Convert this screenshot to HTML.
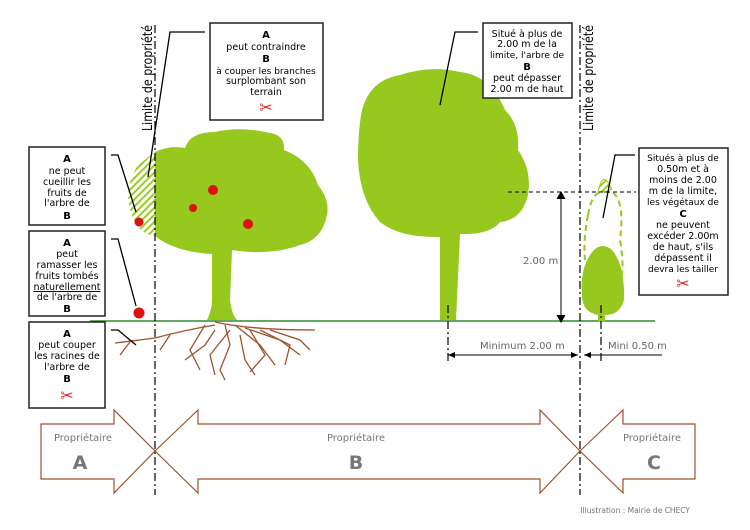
<!DOCTYPE html>
<html><head><meta charset="utf-8"><style>
body{margin:0;background:#fff;width:750px;height:530px;overflow:hidden}
svg{display:block;font-family:"DejaVu Sans","Liberation Sans",sans-serif}
</style></head><body>
<svg width="750" height="530" viewBox="0 0 750 530" xmlns="http://www.w3.org/2000/svg">
<defs>
<pattern id="h" width="5" height="5" patternUnits="userSpaceOnUse" patternTransform="rotate(45)">
<rect width="5" height="5" fill="#fff"/><rect width="2" height="5" fill="#9acd1c"/></pattern>
</defs>
<!-- roots -->
<g stroke="#a0522d" stroke-width="1.3" fill="none">
<path d="M115 343 Q140 340 155 338 Q185 330 215 325"/>
<path d="M215 322 Q250 330 315 330"/>
<path d="M205 325 L190 350 L200 370"/>
<path d="M225 325 L230 345 L220 370 L225 380"/>
<path d="M235 325 L260 345 L275 365"/>
<path d="M245 328 L280 340 L300 355"/>
<path d="M215 330 L205 345 L185 360"/>
<path d="M240 335 L245 360 L255 375"/>
<path d="M260 330 L290 345 L285 365"/>
<path d="M250 330 L265 355 L250 372"/>
<path d="M230 330 L210 355 L215 375"/>
<path d="M270 330 L300 340 L310 350"/>
<path d="M170 335 L160 350"/>
<path d="M130 342 L120 355"/>
</g>
<!-- grass -->
<path d="M90 321 L655 321" stroke="#2e8b2e" stroke-width="1.5"/>
<!-- apple tree -->
<path d="M132 215 Q122 190 138 165 L155 152 L155 236 Q138 234 132 215Z" fill="url(#h)"/>
<path d="M155 152 Q170 145 185 148 Q190 132 215 132 Q240 126 270 133 Q285 135 284 150 Q310 160 318 185 Q330 200 327 215 Q322 240 300 245 Q270 256 232 250 L230 300 Q232 315 237 320 L207 320 Q212 310 212 300 L212 254 Q175 252 155 236Z" fill="#96c81e"/>
<circle cx="213" cy="190" r="5" fill="#e01010"/><circle cx="193" cy="208" r="4" fill="#e01010"/><circle cx="248" cy="224" r="5" fill="#e01010"/>
<circle cx="139" cy="222" r="4.5" fill="#e01010"/><circle cx="139" cy="313" r="5.5" fill="#e01010"/>
<!-- big tree B -->
<path d="M362 110 Q370 80 400 75 Q430 65 460 72 Q490 75 505 110 Q520 125 518 150 Q532 170 528 195 Q522 220 500 222 Q490 235 460 234 L456 320 L440 320 L440 237 Q400 238 380 222 Q360 200 358 160 Q358 130 362 110Z" fill="#96c81e"/>
<!-- small tree C -->
<path d="M590 255 Q600 240 612 250 Q625 265 624 300 Q620 315 605 315 L605 322 L598 322 L598 315 Q582 312 582 295 Q580 270 590 255Z" fill="#96c81e"/>
<path d="M598 192 Q603 168 612 190" fill="url(#h)" stroke="#96c81e"/>
<path d="M588 215 Q592 190 605 192 L612 192 Q625 200 620 240 Q625 270 620 280 M588 215 Q583 240 585 260" fill="none" stroke="#96c81e" stroke-width="2" stroke-dasharray="6,4"/>
<!-- property lines -->
<g stroke="#000" stroke-width="1.2" stroke-dasharray="8,3,2,3"><path d="M155 25 V495"/><path d="M580 25 V495"/><path d="M448 305 V362"/><path d="M601 305 V362"/></g>
<text transform="translate(152 131) rotate(-90)" font-size="13" textLength="106" lengthAdjust="spacingAndGlyphs">Limite de propriété</text>
<text transform="translate(593 131) rotate(-90)" font-size="13" textLength="106" lengthAdjust="spacingAndGlyphs">Limite de propriété</text>
<!-- dimensions -->
<path d="M508 192 H636" stroke="#000" stroke-dasharray="4,3"/>
<path d="M561 196 V318" stroke="#000"/><path d="M557 199 L561 192 L565 199 M557 315 L561 322 L565 315" fill="#000" stroke="#000"/>
<text x="523" y="264" font-size="10" fill="#666">2.00 m</text>
<path d="M448 355 H578 M584 355 H662" stroke="#000"/>
<path d="M455 352 L448 355 L455 358Z M571 352 L578 355 L571 358Z M591 352 L584 355 L591 358Z" fill="#000"/>
<text x="480" y="349" font-size="10" fill="#666">Minimum 2.00 m</text>
<text x="608" y="349" font-size="10" fill="#666">Mini 0.50 m</text>
<!-- leader lines -->
<g stroke="#000" stroke-width="1.3" fill="none">
<path d="M205 32 H170 L148 177"/>
<path d="M111 155 H118 L136 212"/>
<path d="M111 239 H118 L136 306"/>
<path d="M111 330 H118 L136 345"/>
<path d="M478 32 H455 L440 105"/>
<path d="M635 155 H615 L603 218"/>
</g>
<!-- boxes -->
<g fill="#fff" stroke="#222" stroke-width="1.5">
<rect x="210" y="23" width="113" height="97"/><rect x="29" y="147" width="76" height="78"/>
<rect x="29" y="231" width="76" height="85"/><rect x="29" y="322" width="76" height="86"/>
<rect x="483" y="23" width="89" height="75"/><rect x="639" y="148" width="89" height="147"/>
</g>
<g font-size="9.5" text-anchor="middle" fill="#000">
<text x="266" y="38" font-weight="bold" font-size="10">A</text><text x="266" y="50">peut contraindre</text><text x="266" y="62" font-weight="bold" font-size="10">B</text><text x="266" y="74" font-size="9">à couper les branches</text><text x="266" y="84">surplombant son</text><text x="266" y="95">terrain</text>
<text x="67" y="162" font-weight="bold" font-size="10">A</text><text x="67" y="174">ne peut</text><text x="67" y="185">cueillir les</text><text x="67" y="196">fruits de</text><text x="67" y="206">l'arbre de</text><text x="67" y="219" font-weight="bold" font-size="10">B</text>
<text x="67" y="246" font-weight="bold" font-size="10">A</text><text x="67" y="257">peut</text><text x="67" y="268">ramasser les</text><text x="67" y="279">fruits tombés</text><text x="67" y="290" text-decoration="underline">naturellement</text><text x="67" y="300">de l'arbre de</text><text x="67" y="312" font-weight="bold" font-size="10">B</text>
<text x="67" y="337" font-weight="bold" font-size="10">A</text><text x="67" y="348">peut couper</text><text x="67" y="359">les racines de</text><text x="67" y="370">l'arbre de</text><text x="67" y="382" font-weight="bold" font-size="10">B</text>
<text x="527" y="37">Situé à plus de</text><text x="527" y="47">2.00 m de la</text><text x="527" y="58" font-size="9">limite, l'arbre de</text><text x="527" y="70" font-weight="bold" font-size="10">B</text><text x="527" y="81">peut dépasser</text><text x="527" y="92">2.00 m de haut</text>
<text x="683" y="161" font-size="9">Situés à plus de</text><text x="683" y="172">0.50m et à</text><text x="683" y="183">moins de 2.00</text><text x="683" y="194">m de la limite,</text><text x="683" y="205" font-size="9">les végétaux de</text><text x="683" y="217" font-weight="bold" font-size="10">C</text><text x="683" y="228">ne peuvent</text><text x="683" y="239">excéder 2.00m</text><text x="683" y="250">de haut, s'ils</text><text x="683" y="261">dépassent il</text><text x="683" y="272" font-size="9">devra les tailler</text>
</g>
<g fill="#e02020" font-size="16" text-anchor="middle"><text x="266" y="113">✂</text><text x="67" y="401">✂</text><text x="683" y="289">✂</text></g>
<!-- arrows -->
<g fill="#fff" stroke="#a0522d" stroke-width="1.2">
<path d="M41 424 H114 V410 L155 451 L114 493 V479 H41Z"/>
<path d="M155 451 L198 410 V424 H540 V410 L580 451 L540 493 V479 H198 V493Z"/>
<path d="M580 451 L623 410 V424 H695 V479 H623 V493Z"/>
</g>
<g fill="#777" text-anchor="middle"><text x="83" y="441" font-size="10">Propriétaire</text><text x="80" y="469" font-size="19" font-weight="bold">A</text>
<text x="356" y="441" font-size="10">Propriétaire</text><text x="356" y="469" font-size="19" font-weight="bold">B</text>
<text x="652" y="441" font-size="10">Propriétaire</text><text x="654" y="469" font-size="19" font-weight="bold">C</text></g>
<text x="690" y="513" font-size="7.5" fill="#777" text-anchor="end">Illustration : Mairie de CHECY</text>
</svg>
</body></html>
